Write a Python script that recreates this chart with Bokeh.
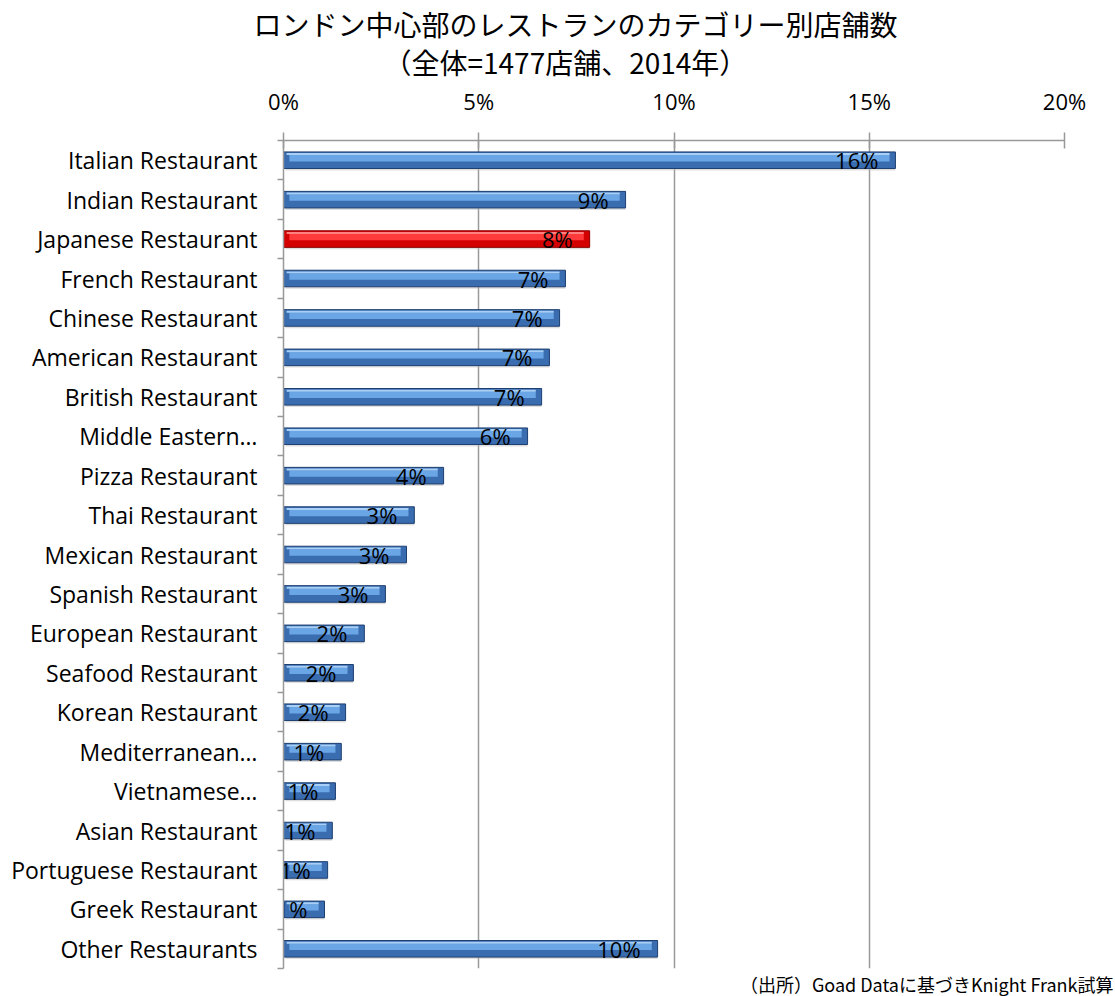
from bokeh.plotting import figure
from bokeh.models import (Range1d, Title, PrintfTickFormatter, FixedTicker,
                          ColumnDataSource, LinearAxis)
from bokeh.core.properties import value
from bokeh.embed import file_html
from bokeh.resources import INLINE

categories = [
    "Italian Restaurant", "Indian Restaurant", "Japanese Restaurant", "French Restaurant",
    "Chinese Restaurant", "American Restaurant", "British Restaurant", "Middle Eastern…",
    "Pizza Restaurant", "Thai Restaurant", "Mexican Restaurant", "Spanish Restaurant",
    "European Restaurant", "Seafood Restaurant", "Korean Restaurant", "Mediterranean…",
    "Vietnamese…", "Asian Restaurant", "Portuguese Restaurant", "Greek Restaurant",
    "Other Restaurants",
]
shares = [15.67, 8.76, 7.84, 7.22, 7.07, 6.81, 6.61, 6.25, 4.10, 3.35, 3.15, 2.61,
          2.07, 1.79, 1.59, 1.48, 1.33, 1.25, 1.13, 1.05, 9.58]
value_labels = ["16%", "9%", "8%", "7%", "7%", "7%", "7%", "6%", "4%", "3%", "3%", "3%",
                "2%", "2%", "2%", "1%", "1%", "1%", "1%", "1%", "10%"]
highlight = "Japanese Restaurant"
x_ticks = [0, 5, 10, 15, 20]

title_line1 = "ロンドン中心部のレストランのカテゴリー別店舗数"
title_line2 = "（全体=1477店舗、2014年）"
source_note = "（出所）Goad Dataに基づきKnight Frank試算"

n = len(categories)
ypos = [n - 0.5 - i for i in range(n)]          # slot centre of each category (top first)
base_col = ["#D40000" if c == highlight else "#3A6CB0" for c in categories]
edge_col = ["#8A0000" if c == highlight else "#1E3F70" for c in categories]
mid_col = ["#FF3A3A" if c == highlight else "#6AA6E6" for c in categories]
top_col = ["#FF8080" if c == highlight else "#A8D0F6" for c in categories]

src = ColumnDataSource(dict(
    cat=categories, share=shares, lab=value_labels, y=ypos,
    y_shadow=[v - 0.05 for v in ypos], y_mid=[v + 0.05 for v in ypos],
    y_top=[v + 0.155 for v in ypos], inner=[v - 0.15 for v in shares],
    base=base_col, edge=edge_col, mid=mid_col, top=top_col))

p = figure(y_range=Range1d(0, n), x_range=Range1d(0, 20),
           width=1115, height=996, output_backend="svg", toolbar_location=None,
           x_axis_location="above", y_axis_location=None,
           min_border_left=283, min_border_right=51,
           min_border_bottom=17, min_border_top=140)
p.title.visible = False

# shadow
p.hbar(y="y_shadow", left=0.05, right="share", height=0.42,
       source=src, fill_color="#BBBBBB", fill_alpha=0.5, line_color=None)
# base bar
p.hbar(y="y", left=0, right="share", height=0.42, source=src,
       fill_color="base", line_color="edge", line_width=1)
# middle highlight band
p.hbar(y="y_mid", left=0.15, right="inner", height=0.16,
       source=src, fill_color="mid", line_color=None)
# top thin highlight
p.hbar(y="y_top", left=0.08, right="inner", height=0.05,
       source=src, fill_color="top", line_color=None)

p.text(x="share", y="y", text="lab", source=src, x_offset=-17,
       text_align="right", text_baseline="middle", text_font=value("Open Sans"),
       text_font_size="22px", text_color="#000000")

# top axis
xa = p.xaxis[0]
xa.ticker = FixedTicker(ticks=x_ticks)
xa.formatter = PrintfTickFormatter(format="%d%%")
xa.axis_line_color = "#999999"
xa.axis_line_width = 1.5
xa.major_tick_line_color = "#999999"
xa.major_tick_line_width = 1.5
xa.major_tick_in = 8
xa.major_tick_out = 8
xa.minor_tick_line_color = None
xa.major_label_text_font = "Open Sans"
xa.major_label_text_font_size = "22px"
xa.major_label_text_color = "#000000"
xa.major_label_standoff = 17

# left axis: category names at slot centres, tick marks between slots
cat_axis = LinearAxis(ticker=FixedTicker(ticks=ypos, minor_ticks=list(range(n + 1))),
                      major_label_overrides={y: c for y, c in zip(ypos, categories)})
cat_axis.axis_line_color = "#999999"
cat_axis.axis_line_width = 1.5
cat_axis.major_tick_line_color = None
cat_axis.major_tick_out = 0
cat_axis.major_tick_in = 0
cat_axis.minor_tick_line_color = "#999999"
cat_axis.minor_tick_line_width = 1.5
cat_axis.minor_tick_out = 6
cat_axis.minor_tick_in = 0
cat_axis.major_label_text_font = "Open Sans"
cat_axis.major_label_text_font_size = "23px"
cat_axis.major_label_text_color = "#000000"
cat_axis.major_label_standoff = 20
p.add_layout(cat_axis, "left")

p.xgrid.ticker = FixedTicker(ticks=x_ticks)
p.xgrid.grid_line_color = "#999999"
p.xgrid.grid_line_width = 1.5
p.ygrid.grid_line_color = None
p.outline_line_color = None

p.add_layout(Title(text=title_line2, align="left", offset=100,
                   text_font="Noto Sans CJK JP", text_font_size="28px",
                   text_font_style="normal", text_color="#000000", standoff=2), "above")
p.add_layout(Title(text=title_line1, align="left", offset=-30,
                   text_font="Noto Sans CJK JP", text_font_size="28px",
                   text_font_style="normal", text_color="#000000", standoff=-10), "above")

p.add_layout(Title(text=source_note, align="right", offset=-49,
                   text_font="Noto Sans CJK JP", text_font_size="18px",
                   text_font_style="normal", text_color="#000000", standoff=0), "below")

open("out.html", "w").write(file_html(p, INLINE))
